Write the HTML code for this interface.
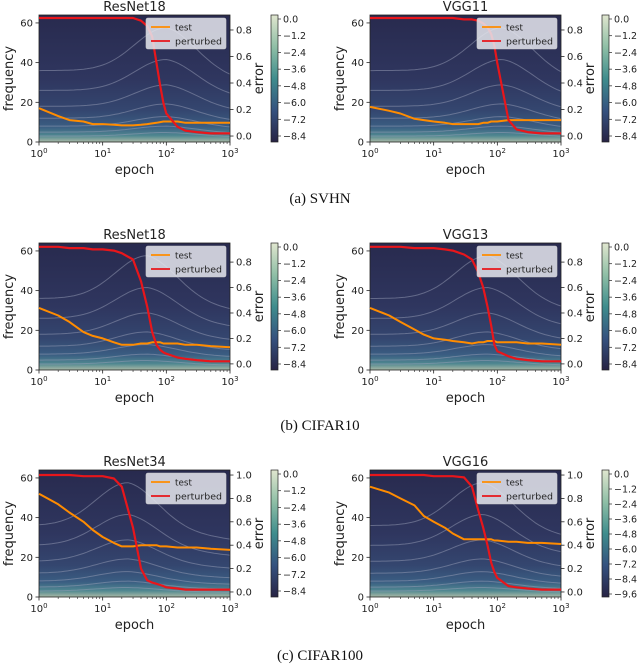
<!DOCTYPE html>
<html><head><meta charset="utf-8"><style>
html,body{margin:0;padding:0;background:#fff;}
svg{display:block;}
text{font-family:"DejaVu Sans","Liberation Sans",sans-serif;fill:#222;}
.cap{font-family:"Liberation Serif",serif;font-size:15px;fill:#111;}
</style></head><body>
<svg id="fig" width="640" height="664" viewBox="0 0 640 664" xmlns="http://www.w3.org/2000/svg">
<defs>
<linearGradient id="bg" x1="0" y1="0" x2="0" y2="1">
<stop offset="0" stop-color="#282a4e"/><stop offset="0.5" stop-color="#2f365f"/>
<stop offset="0.75" stop-color="#34466f"/><stop offset="0.88" stop-color="#3a5d82"/>
<stop offset="0.95" stop-color="#4f8790"/><stop offset="1" stop-color="#a9b9a6"/>
</linearGradient>
<linearGradient id="cb" x1="0" y1="0" x2="0" y2="1">
<stop offset="0" stop-color="#e0e6cf"/><stop offset="0.25" stop-color="#8fbfa6"/>
<stop offset="0.5" stop-color="#3f8d8d"/><stop offset="0.75" stop-color="#35527f"/>
<stop offset="1" stop-color="#272344"/>
</linearGradient>
</defs>
<text class="cap" x="320" y="203" text-anchor="middle">(a) SVHN</text>
<text class="cap" x="320" y="430" text-anchor="middle">(b) CIFAR10</text>
<text class="cap" x="320" y="660" text-anchor="middle">(c) CIFAR100</text>
</svg>
<script>
const epochs = [1,2,3,5,7,10,15,20,30,40,50,60,70,80,90,100,150,200,300,500,1000];
const titles = ["ResNet18","VGG11","ResNet18","VGG13","ResNet34","VGG16"];
const testA = [0.21,0.15,0.12,0.11,0.09,0.09,0.085,0.08,0.08,0.085,0.09,0.095,0.10,0.105,0.11,0.11,0.11,0.10,0.10,0.10,0.10];
const pertA = [0.89,0.89,0.89,0.89,0.89,0.89,0.89,0.89,0.89,0.87,0.83,0.75,0.55,0.38,0.25,0.17,0.07,0.04,0.03,0.02,0.02];
const testB = [0.22,0.19,0.17,0.13,0.12,0.11,0.10,0.09,0.09,0.09,0.09,0.10,0.10,0.11,0.11,0.11,0.12,0.12,0.12,0.12,0.12];
const pertB = [0.89,0.89,0.89,0.89,0.89,0.89,0.89,0.89,0.88,0.88,0.87,0.85,0.82,0.77,0.68,0.55,0.12,0.05,0.03,0.02,0.02];
const testC = [0.44,0.38,0.33,0.25,0.22,0.20,0.17,0.15,0.15,0.16,0.16,0.17,0.17,0.17,0.16,0.16,0.16,0.15,0.15,0.14,0.13];
const pertC = [0.92,0.92,0.91,0.91,0.90,0.90,0.89,0.87,0.82,0.65,0.45,0.25,0.15,0.11,0.09,0.08,0.05,0.04,0.03,0.02,0.02];
const testD = [0.44,0.38,0.33,0.27,0.23,0.20,0.19,0.18,0.17,0.16,0.17,0.17,0.18,0.18,0.18,0.17,0.17,0.17,0.16,0.16,0.15];
const pertD = [0.92,0.92,0.92,0.91,0.91,0.91,0.90,0.89,0.86,0.82,0.72,0.60,0.45,0.30,0.15,0.10,0.06,0.04,0.03,0.02,0.02];
const testE = [0.84,0.75,0.68,0.60,0.53,0.47,0.42,0.39,0.39,0.40,0.40,0.40,0.40,0.39,0.39,0.39,0.38,0.38,0.38,0.37,0.36];
const pertE = [1.0,1.0,1.0,0.99,0.99,0.99,0.97,0.90,0.55,0.20,0.10,0.08,0.07,0.06,0.05,0.04,0.03,0.02,0.02,0.02,0.02];
const testF = [0.90,0.85,0.80,0.74,0.65,0.60,0.55,0.50,0.45,0.45,0.45,0.45,0.45,0.45,0.44,0.44,0.43,0.43,0.42,0.42,0.41];
const pertF = [1.0,1.0,1.0,1.0,1.0,0.99,0.99,0.99,0.98,0.90,0.70,0.55,0.40,0.25,0.17,0.12,0.05,0.04,0.03,0.02,0.02];
const errTicksAB = [0,0.2,0.4,0.6,0.8];
const errTicksC = [0,0.2,0.4,0.6,0.8,1.0];
const freqTicks = [0,20,40,60];
const cbTicks = ["0.0","\u22121.2","\u22122.4","\u22123.6","\u22124.8","\u22126.0","\u22127.2","\u22128.4"];
const cbTicksF = ["0.0","\u22121.2","\u22122.4","\u22123.6","\u22124.8","\u22126.0","\u22127.2","\u22128.4","\u22129.6"];
const contourLevels = [3,5,8,12,18,26,36];

const NS="http://www.w3.org/2000/svg";
const svg=document.getElementById('fig');
function mk(tag,attrs,parent){const e=document.createElementNS(NS,tag);for(const k in attrs)e.setAttribute(k,attrs[k]);(parent||svg).appendChild(e);return e;}

const panels=[
 {x0:39,y0:15,title:0,test:testA,pert:pertA,eMin:-0.045,eMax:0.913,eT:errTicksAB,cb:cbTicks,peak:100},
 {x0:370,y0:15,title:1,test:testB,pert:pertB,eMin:-0.045,eMax:0.913,eT:errTicksAB,cb:cbTicks,peak:120},
 {x0:39,y0:243,title:2,test:testC,pert:pertC,eMin:-0.048,eMax:0.95,eT:errTicksAB,cb:cbTicks,peak:50},
 {x0:370,y0:243,title:3,test:testD,pert:pertD,eMin:-0.048,eMax:0.95,eT:errTicksAB,cb:cbTicks,peak:70},
 {x0:39,y0:470,title:4,test:testE,pert:pertE,eMin:-0.043,eMax:1.043,eT:errTicksC,cb:cbTicks,peak:25},
 {x0:370,y0:470,title:5,test:testF,pert:pertF,eMin:-0.043,eMax:1.043,eT:errTicksC,cb:cbTicksF,peak:60}
];
const W=191,H=127;
panels.forEach((p,i)=>{
 const g=mk('g',{});
 
 
 const xs=e=>p.x0+Math.log10(e)/3*W;
 const fy=f=>p.y0+H-f/64*H;
 const ey=v=>p.y0+H-(v-p.eMin)/(p.eMax-p.eMin)*H;
 const bg=mk('rect',{x:p.x0,y:p.y0,width:W,height:H,fill:'url(#bg)'},g);
 
 
 contourLevels.forEach(l=>{
   let d='';
   for(let k=0;k<=60;k++){const lx=k/20;const ep=Math.pow(10,lx);
     const pk=Math.log10(p.peak);const bump=Math.exp(-Math.pow((lx-pk)/0.7,2));
     let f=l*(1+0.6*bump)*(lx>pk?1-0.12*(lx-pk):1);
     f=Math.min(f,63.5);
     d+=(k?'L':'M')+xs(ep).toFixed(1)+' '+fy(f).toFixed(1);}
   const c=mk('path',{d:d,fill:'none',stroke:'#9aa0b8','stroke-opacity':0.5,'stroke-width':1},g);
   
   
 });
 mk('rect',{x:p.x0,y:p.y0,width:W,height:H,fill:'none',stroke:'#222','stroke-width':0.8},g);
 const line=(arr,col,w,name)=>{let d='';arr.forEach((v,k)=>{d+=(k?'L':'M')+xs(epochs[k]).toFixed(1)+' '+ey(v).toFixed(1);});
   const l=mk('path',{d:d,fill:'none',stroke:col,'stroke-width':w,'stroke-linejoin':'round'},g);
   
   };
 line(p.test,'#ff8c00',2,'test-error-line');
 line(p.pert,'#e8161b',2.2,'perturbed-error-line');
 const t=mk('text',{x:p.x0+W/2,y:p.y0-4,'text-anchor':'middle','font-size':13},g);t.textContent=titles[p.title];
 
 
 [0,1,2,3].forEach(k=>{const x=xs(Math.pow(10,k));
   mk('line',{x1:x,x2:x,y1:p.y0+H,y2:p.y0+H+3.5,stroke:'#222','stroke-width':0.8},g);
   const tx=mk('text',{x:x,y:p.y0+H+15,'text-anchor':'middle','font-size':10},g);
   tx.innerHTML='10<tspan dy="-4" font-size="7">'+k+'</tspan>';
   
   
   if(k<3)for(let m=2;m<10;m++){const xm=xs(m*Math.pow(10,k));mk('line',{x1:xm,x2:xm,y1:p.y0+H,y2:p.y0+H+2,stroke:'#222','stroke-width':0.6},g);}
 });
 const xl=mk('text',{x:p.x0+W/2,y:p.y0+H+32,'text-anchor':'middle','font-size':13},g);xl.textContent='epoch';
 
 
 freqTicks.forEach(f=>{const y=fy(f);
   mk('line',{x1:p.x0-3.5,x2:p.x0,y1:y,y2:y,stroke:'#222','stroke-width':0.8},g);
   const tt=mk('text',{x:p.x0-6,y:y+3.5,'text-anchor':'end','font-size':10},g);tt.textContent=f;
   
   });
 const yl=mk('text',{x:0,y:0,'text-anchor':'middle','font-size':13,transform:`translate(${p.x0-26},${p.y0+H/2}) rotate(-90)`},g);yl.textContent='frequency';
 
 
 p.eT.forEach(v=>{const y=ey(v);
   mk('line',{x1:p.x0+W,x2:p.x0+W+3.5,y1:y,y2:y,stroke:'#222','stroke-width':0.8},g);
   const tt=mk('text',{x:p.x0+W+6,y:y+3.5,'font-size':10},g);tt.textContent=v.toFixed(1);
   
   });
 const el=mk('text',{x:0,y:0,'text-anchor':'middle','font-size':13,transform:`translate(${p.x0+W+33},${p.y0+H/2}) rotate(-90)`},g);el.textContent='error';
 
 
 const lg=mk('g',{},g);
 
 
 const lx=p.x0+W-84,ly=p.y0+3;
 mk('rect',{x:lx,y:ly,width:80,height:31,rx:2,fill:'#e6e7ee','fill-opacity':0.85,stroke:'#ccc','stroke-width':0.6},lg);
 mk('line',{x1:lx+5,x2:lx+24,y1:ly+9,y2:ly+9,stroke:'#ff8c00','stroke-width':1.8},lg);
 mk('line',{x1:lx+5,x2:lx+24,y1:ly+23,y2:ly+23,stroke:'#e8161b','stroke-width':1.8},lg);
 const l1=mk('text',{x:lx+29,y:ly+12.5,'font-size':8.8},lg);l1.textContent='test';
 
 
 const l2=mk('text',{x:lx+29,y:ly+26.5,'font-size':8.8,textLength:47,lengthAdjust:'spacingAndGlyphs'},lg);l2.textContent='perturbed';
 
 
 const cx=p.x0+232,cy=p.y0;
 const cbr=mk('rect',{x:cx,y:cy,width:7,height:H,fill:'url(#cb)',stroke:'#222','stroke-width':0.7},g);
 
 
 const n=p.cb.length;const step=n===9?(H-7)/8:(H-10)/7;
 p.cb.forEach((s,k)=>{const y=cy+4+k*step;
   mk('line',{x1:cx+7,x2:cx+10,y1:y,y2:y,stroke:'#222','stroke-width':0.7},g);
   const tt=mk('text',{x:cx+12,y:y+3.5,'font-size':9.5},g);tt.textContent=s;
   
   });
});
</script>
</body></html>
